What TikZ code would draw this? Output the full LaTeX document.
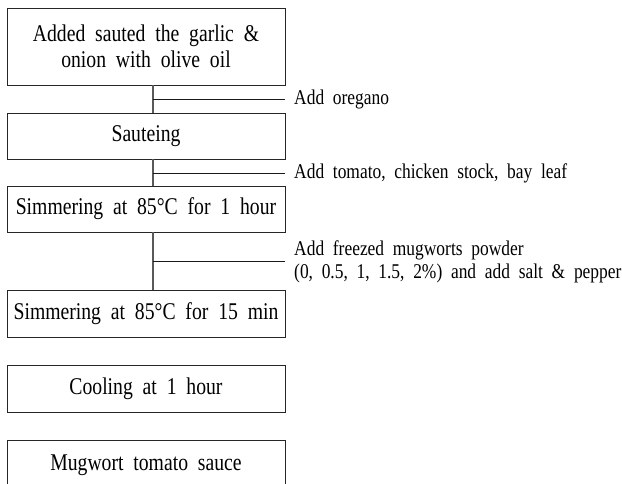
\documentclass[tikz,border=0pt]{standalone}
\usepackage{fontspec}
\newfontfamily\stepfont[FakeStretch=0.82,WordSpace=2]{Liberation Serif}
\newfontfamily\notefont[FakeStretch=0.83,WordSpace=2]{Liberation Serif}
\tikzset{
  stepbox/.style={draw=black!85, line width=0.9pt, rectangle, inner sep=0pt,
    minimum width=278pt, align=center,
    font=\stepfont\fontsize{24}{26.5}\selectfont},
  spine/.style={draw=black!65, line width=1.1pt},
  branch/.style={draw=black!90, line width=0.8pt},
  note/.style={anchor=west, inner sep=0pt, align=left,
    font=\notefont\fontsize{21}{23}\selectfont}
}
\begin{document}
\begin{tikzpicture}[x=1pt, y=-1pt]
  \useasboundingbox (0,0) rectangle (622,483);
  \clip (0,0) rectangle (622,483);

  % process steps
  \node[stepbox, minimum height=77pt] (s1) at (146,46.5) {Added sauted the garlic \&\\onion with olive oil};
  \node[stepbox, minimum height=46pt] (s2) at (146,136) {Sauteing};
  \node[stepbox, minimum height=46pt] (s3) at (146,209) {Simmering at 85°C for 1 hour};
  \node[stepbox, minimum height=47pt] (s4) at (146,313.5) {Simmering at 85°C for 15 min};
  \node[stepbox, minimum height=47pt] (s5) at (146,388.5) {Cooling at 1 hour};
  \node[stepbox, minimum height=50pt] (s6) at (146,465) {Mugwort tomato sauce};

  % vertical flow line and the points where ingredients join it
  \coordinate (axis) at (153,0);
  \coordinate (j1) at (153,99);
  \coordinate (j2) at (153,173);
  \coordinate (j3) at (153,261.5);

  \draw[spine] (s1.south -| axis) -- (s2.north -| axis);
  \draw[spine] (s2.south -| axis) -- (s3.north -| axis);
  \draw[spine] (s3.south -| axis) -- (s4.north -| axis);

  \draw[branch] (j1) -- (j1 -| s1.east);
  \draw[branch] (j2) -- (j2 -| s2.east);
  \draw[branch] (j3) -- (j3 -| s3.east);

  % added ingredients
  \node[note] (n1) at (294,99) {Add oregano};
  \node[note] (n2) at (294,173) {Add tomato, chicken stock, bay leaf};
  \node[note] (n3) at (294,261.5) {Add freezed mugworts powder\\(0, 0.5, 1, 1.5, 2\%) and add salt \& pepper};
\end{tikzpicture}
\end{document}
